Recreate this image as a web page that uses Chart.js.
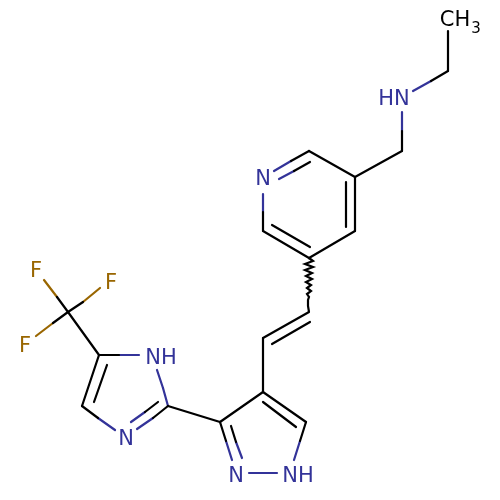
<!DOCTYPE html>
<html>
<head>
<meta charset="utf-8">
<style>
    html, body { margin: 0; padding: 0; background: #fff; }
    #chart { display: block; }
</style>
<script src="https://cdn.jsdelivr.net/npm/chart.js@4/dist/chart.umd.min.js"></script>
</head>
<body>
<canvas id="chart" width="500" height="500"></canvas>
<script>
// bonds are [x1, y1, x2, y2] in picture units
const blackBonds = [
    [448, 31, 448, 71], [448, 71, 431, 81],
    [402, 131, 402, 151], [402, 151, 355, 177],
    [355, 177, 309, 151], [309, 151, 291, 161], [310, 162, 294, 171],
    [263, 212, 263, 231], [263, 231, 309, 258], [272, 225, 310, 247],
    [309, 258, 355, 231], [355, 231, 355, 177], [346, 182, 346, 227],
    [309, 312, 263, 338], [310, 322, 272, 344], [263, 338, 263, 392],
    [263, 392, 220, 422], [263, 392, 306, 422], [263, 402, 296, 427],
    [306, 422, 300, 441], [220, 422, 226, 441], [231, 426, 236, 442],
    [220, 422, 168, 406],
    [168, 406, 153, 418], [158, 402, 145, 412],
    [98, 418, 82, 406], [82, 406, 99, 355], [94, 402, 107, 365],
    [99, 355, 119, 355], [99, 355, 68, 312],
    [68, 312, 57, 297], [68, 312, 83, 302], [68, 312, 53, 323]
];
const blueBonds = [
    [431, 81, 413, 91], [402, 112, 402, 131],
    [291, 161, 274, 171], [294, 171, 279, 179], [263, 194, 263, 212],
    [300, 441, 294, 460], [226, 441, 232, 460], [236, 442, 242, 458],
    [249, 473, 277, 473],
    [168, 406, 163, 388], [163, 388, 157, 370],
    [153, 418, 137, 429], [145, 412, 131, 422],
    [115, 430, 98, 418], [119, 355, 139, 355]
];
const brownBonds = [
    [57, 297, 44, 280], [83, 302, 100, 288], [53, 323, 36, 336]
];
const wavyX = [309, 313, 305, 313, 305, 312, 306, 312, 306, 311, 307, 311, 307, 309, 308, 308, 309];
const wavyY = [258, 261, 264, 267, 270, 273, 276, 279, 282, 285, 288, 291, 294, 297, 300, 306, 312];

const blueLabels = [
    ["HN", 394, 100], ["N", 263, 180], ["NH", 161, 359],
    ["N", 126, 440], ["N", 236, 477], ["NH", 298, 477]
];
const brownLabels = [["F", 36, 272], ["F", 111, 284], ["F", 25, 347]];
const blackLabels = [["CH", 455, 21]];
const subLabels = [["3", 476, 29]];

const BLACK = "#000000";
const BLUE = "#333399";
const BROWN = "#996600";

function bondDatasets(bonds, color) {
    return bonds.map(b => ({
        data: [{ x: b[0], y: b[1] }, { x: b[2], y: b[3] }],
        borderColor: color,
        borderWidth: 2.2,
        pointRadius: 0,
        showLine: true,
        borderCapStyle: "round"
    }));
}

// atom labels sit on the same scales as the bonds
const atomLabels = {
    id: "atomLabels",
    afterDatasetsDraw(chart) {
        const { ctx, scales } = chart;
        function put(list, color, size) {
            ctx.fillStyle = color;
            ctx.font = `${size}px "DejaVu Sans"`;
            ctx.textAlign = "center";
            ctx.textBaseline = "middle";
            list.forEach(l => ctx.fillText(l[0], scales.x.getPixelForValue(l[1]), scales.y.getPixelForValue(l[2])));
        }
        ctx.save();
        put(blueLabels, BLUE, 21);
        put(brownLabels, BROWN, 21);
        put(blackLabels, BLACK, 21);
        put(subLabels, BLACK, 15);
        ctx.restore();
    }
};

new Chart(document.getElementById("chart"), {
    type: "scatter",
    data: {
        datasets: [
            ...bondDatasets(blackBonds, BLACK),
            ...bondDatasets(blueBonds, BLUE),
            ...bondDatasets(brownBonds, BROWN),
            {
                data: wavyX.map((x, i) => ({ x: x, y: wavyY[i] })),
                borderColor: BLACK,
                borderWidth: 2.2,
                pointRadius: 0,
                showLine: true
            }
        ]
    },
    options: {
        responsive: false,
        animation: false,
        layout: { padding: 0 },
        plugins: { legend: { display: false }, tooltip: { enabled: false } },
        scales: {
            x: { type: "linear", min: 0, max: 500, display: false },
            y: { type: "linear", min: 0, max: 500, reverse: true, display: false }
        }
    },
    plugins: [atomLabels]
});
</script>
</body>
</html>
